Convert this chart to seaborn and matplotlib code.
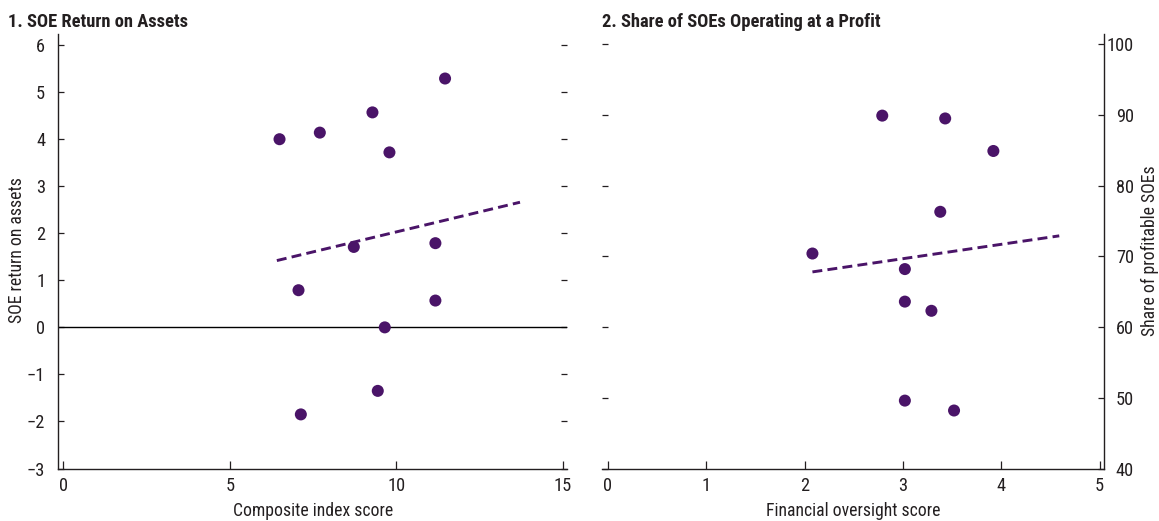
import matplotlib
matplotlib.use("Agg")
import matplotlib.pyplot as plt
import seaborn as sns
import pandas as pd

# ---- Data ----
composite_score = [6.49, 7.70, 9.28, 9.79, 11.46, 8.72, 11.17, 7.06, 11.17, 9.65, 9.44, 7.13]
soe_roa = [4.00, 4.14, 4.57, 3.72, 5.29, 1.71, 1.79, 0.79, 0.57, 0.00, -1.35, -1.85]
trend1_x = [6.41, 13.71]
trend1_y = [1.42, 2.66]

oversight_score = [2.79, 3.43, 3.92, 3.38, 2.08, 3.02, 3.02, 3.29, 3.02, 3.52]
profitable_share = [89.9, 89.5, 84.9, 76.3, 70.4, 68.2, 63.6, 62.3, 49.6, 48.2]
trend2_x = [2.08, 4.59]
trend2_y = [67.8, 72.9]

x1_ticks = [0, 5, 10, 15]
y1_ticks = [-3, -2, -1, 0, 1, 2, 3, 4, 5, 6]
y1_labels = ["\u22123", "\u22122", "\u22121", "0", "1", "2", "3", "4", "5", "6"]
x2_ticks = [0, 1, 2, 3, 4, 5]
y2_ticks = [40, 50, 60, 70, 80, 90, 100]

title1 = "1. SOE Return on Assets"
title2 = "2. Share of SOEs Operating at a Profit"
xlabel1 = "Composite index score"
ylabel1 = "SOE return on assets"
xlabel2 = "Financial oversight score"
ylabel2 = "Share of profitable SOEs"

# ---- Style ----
sns.set_style("white")
plt.rcParams['font.family'] = ['Roboto Condensed', 'DejaVu Sans']
plt.rcParams['font.size'] = 12.5
TEXT = "#231f20"
PURPLE = "#4a1468"
FS = 12.7
TICK_FS = 13.2
TITLE_FS = 13.3

fig = plt.figure(figsize=(11.59, 5.21), dpi=100)
W, H = 1159, 521
ax1 = fig.add_axes([57.7 / W, 1 - 468.5 / H, (567.3 - 57.7) / W, (468.5 - 34.3) / H])
ax2 = fig.add_axes([602 / W, 1 - 468.5 / H, (1104 - 602) / W, (468.5 - 34.3) / H])

df1 = pd.DataFrame({"x": composite_score, "y": soe_roa})
df2 = pd.DataFrame({"x": oversight_score, "y": profitable_share})
t1 = pd.DataFrame({"x": trend1_x, "y": trend1_y})
t2 = pd.DataFrame({"x": trend2_x, "y": trend2_y})

# Panel 1
ax1.axhline(0, color="black", lw=1.0, zorder=1)
sns.lineplot(data=t1, x="x", y="y", ax=ax1, color=PURPLE, lw=2.1, zorder=2)
ax1.lines[-1].set_dashes([3.4, 1.8])
sns.scatterplot(data=df1, x="x", y="y", ax=ax1, color=PURPLE, s=75,
                edgecolor="none", zorder=3)

# Panel 2
sns.lineplot(data=t2, x="x", y="y", ax=ax2, color=PURPLE, lw=2.1, zorder=2)
ax2.lines[-1].set_dashes([3.4, 1.8])
sns.scatterplot(data=df2, x="x", y="y", ax=ax2, color=PURPLE, s=75,
                edgecolor="none", zorder=3)

ax1.set_xlim(-0.17, 15.13)
ax1.set_ylim(-3, 6.23)
ax2.set_xlim(-0.06, 5.045)
ax2.set_ylim(40, 101.4)

for ax in (ax1, ax2):
    ax.set_xlabel("")
    ax.set_ylabel("")
    for s in ax.spines.values():
        s.set_color(TEXT)
        s.set_linewidth(1.0)
    ax.tick_params(axis="both", direction="in", colors=TEXT, labelcolor=TEXT,
                   labelsize=TICK_FS, width=0.9)
    ax.tick_params(axis="x", length=6, pad=6)
    ax.tick_params(axis="y", length=4)

# Panel 1 spines / ticks
ax1.spines["top"].set_visible(False)
ax1.spines["right"].set_visible(False)
ax1.set_xticks(x1_ticks)
ax1.set_xticklabels([str(v) for v in x1_ticks])
ax1.set_yticks(y1_ticks)
ax1.set_yticklabels(y1_labels)
ax1.tick_params(axis="y", left=True, right=True, labelleft=True,
                labelright=False, pad=9)
ax1.tick_params(axis="x", bottom=True, top=False)

# Panel 2 spines / ticks
ax2.spines["top"].set_visible(False)
ax2.spines["left"].set_visible(False)
ax2.set_xticks(x2_ticks)
ax2.set_xticklabels([str(v) for v in x2_ticks])
ax2.set_yticks(y2_ticks)
ax2.set_yticklabels([str(v) for v in y2_ticks])
ax2.tick_params(axis="y", left=True, right=True, labelleft=False,
                labelright=True, pad=21.5)
ax2.tick_params(axis="x", bottom=True, top=False)
for lab in ax2.get_yticklabels():
    lab.set_horizontalalignment("right")

# Titles and axis labels
fig.text(8 / W, 1 - 22 / H, title1, fontsize=TITLE_FS, fontweight="bold",
         color=TEXT, ha="left", va="center")
fig.text(602 / W, 1 - 22 / H, title2, fontsize=TITLE_FS, fontweight="bold",
         color=TEXT, ha="left", va="center")
fig.text(313 / W, 1 - 511 / H, xlabel1, fontsize=FS, color=TEXT,
         ha="center", va="center")
fig.text(853 / W, 1 - 511 / H, xlabel2, fontsize=FS, color=TEXT,
         ha="center", va="center")
fig.text(17 / W, 1 - 250.5 / H, ylabel1, fontsize=FS, color=TEXT,
         ha="center", va="center", rotation=90)
fig.text(1150 / W, 1 - 251 / H, ylabel2, fontsize=FS, color=TEXT,
         ha="center", va="center", rotation=90)

fig.savefig("out.png", dpi=100)
